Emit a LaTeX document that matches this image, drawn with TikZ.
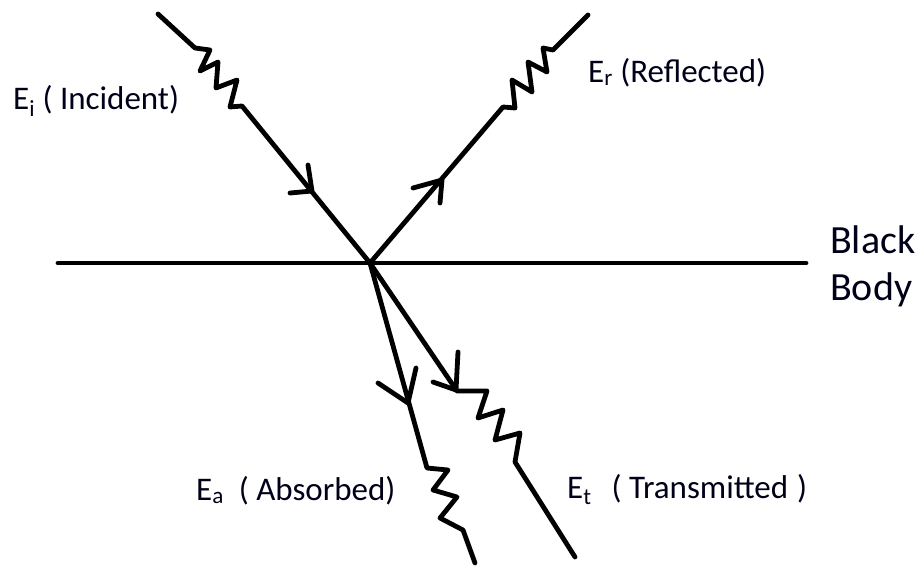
\documentclass[tikz,border=0pt]{standalone}
\usepackage{fontspec}
\setmainfont{Carlito}
\begin{document}
\begin{tikzpicture}[x=1pt,y=-1pt,
  ray/.style={line width=4.8pt,line join=round,line cap=round},
  vhead/.style={line width=4.8pt,line join=round,line cap=round},
  lbl/.style={anchor=base west,inner sep=0pt,text=black!90!blue,font=\fontsize{33}{38}\selectfont},
  bigl/.style={anchor=base west,inner sep=0pt,text=black!90!blue,font=\fontsize{40}{46}\selectfont}]
\useasboundingbox (0,0) rectangle (921,565);
\coordinate (O) at (370,263);
\coordinate (L) at (58,263);
\coordinate (R) at (806,263);
% surface
\draw[ray] (L) -- (R);
% incident
\coordinate (Istart) at (158,14);
\draw[ray] (Istart) -- (195,48) -- (210,50) -- (200,71) -- (218,62) -- (216,88) -- (237,80) -- (230,107) -- (242,106) -- (O);
\coordinate (Itip) at (312,191);
\draw[vhead] (308,165) -- (Itip) -- (290,193);
% reflected
\coordinate (Rend) at (588,15);
\draw[ray] (O) -- (503,107) -- (515,108) -- (512,80) -- (532,92) -- (528,62) -- (547,72) -- (543,48) -- (553,50) -- (Rend);
\coordinate (Rtip) at (442,180);
\draw[vhead] (413,188) -- (Rtip) -- (440,203);
% absorbed
\coordinate (Aend) at (475,563);
\draw[ray] (O) -- (427,468) -- (448,470) -- (433,490) -- (457,497) -- (440,518) -- (463,530) -- (Aend);
\coordinate (Atip) at (408,403);
\draw[vhead] (378,383) -- (Atip) -- (416,368);
% transmitted
\coordinate (Tend) at (575,557);
\draw[ray] (O) -- (457,391) -- (487,391) -- (478,418) -- (503,410) -- (495,440) -- (520,433) -- (515,462) -- (Tend);
\coordinate (Ttip) at (456,390);
\draw[vhead] (433,382) -- (Ttip) -- (458,352);
% labels
\node[lbl] (li) at (13,109) {E\textsubscript{i} ( Incident)};
\node[lbl] (lr) at (588,82) {E\textsubscript{r} (Reflected)};
\node[bigl] (lb1) at (830,253) {Black};
\node[bigl] (lb2) at (830,300) {Body};
\node[lbl] (la) at (196,500) {E\textsubscript{a}\ \ ( Absorbed)};
\node[lbl] (lt) at (567,498) {E\textsubscript{t}\hspace{20pt}( Transmitted\hspace{9pt})};
\end{tikzpicture}
\end{document}
